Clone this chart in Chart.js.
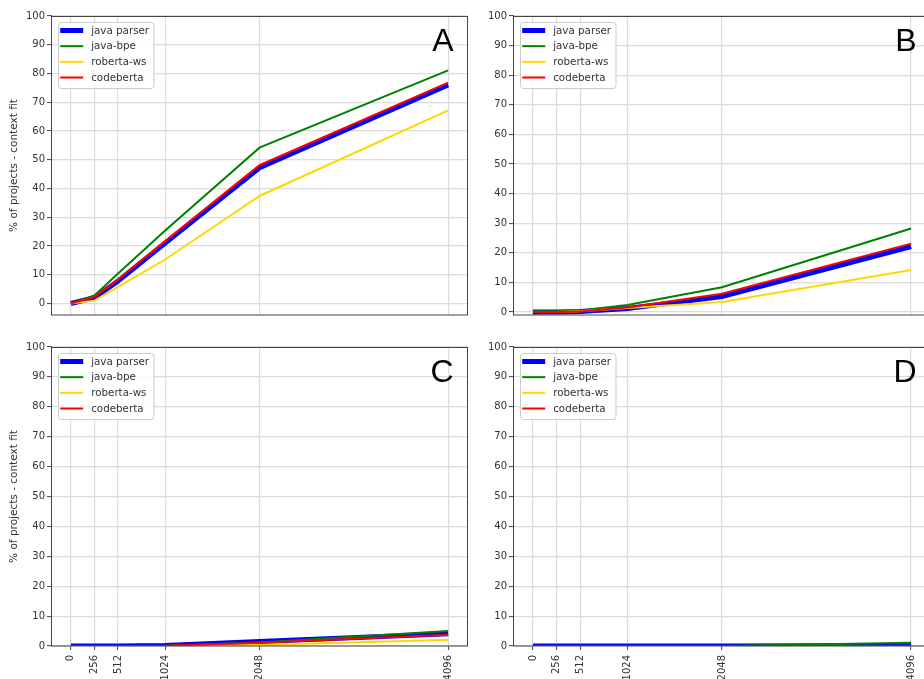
<!DOCTYPE html>
<html><head><meta charset="utf-8">
<script src="https://cdn.jsdelivr.net/npm/chart.js@4.4.1/dist/chart.umd.min.js"></script>
<style>
html,body{margin:0;padding:0;width:924px;height:679px;overflow:hidden;background:#fff;}
canvas{position:absolute;}
</style></head><body>
<canvas id="cA" width="480" height="330" style="left:0px;top:0px"></canvas>
<canvas id="cB" width="480" height="330" style="left:460px;top:0px"></canvas>
<canvas id="cC" width="480" height="360" style="left:0px;top:330px"></canvas>
<canvas id="cD" width="480" height="360" style="left:460px;top:330px"></canvas>
<script>
// ---- data ----
const xTicks = [0, 256, 512, 1024, 2048, 4096];
const xTickLabels = ['0', '256', '512', '1024', '2048', '4096'];
const yTicks = [0, 10, 20, 30, 40, 50, 60, 70, 80, 90, 100];
const seriesNames = ['java parser', 'java-bpe', 'roberta-ws', 'codeberta'];

const javaParserA = [0, 2.0, 7.8, 21.0, 47.2, 76.0];
const javaBpeA    = [0, 2.8, 10.4, 25.4, 54.2, 81.1];
const robertaWsA  = [0, 1.0, 5.8, 15.3, 37.4, 67.2];
const codebertaA  = [0, 2.3, 8.4, 21.7, 48.1, 76.8];

const javaParserB = [0, 0, 0.2, 1.2, 5.2, 22.1];
const javaBpeB    = [0.3, 0.3, 0.5, 2.4, 8.4, 28.2];
const robertaWsB  = [0, 0, 0.3, 1.4, 3.4, 14.2];
const codebertaB  = [0, 0, 0.2, 1.5, 6.2, 23.1];

const javaParserC = [0, 0, 0, 0.2, 1.5, 4.1];
const javaBpeC    = [0, 0, 0, 0.1, 1.2, 5.0];
const robertaWsC  = [0, 0, 0, 0, 0.3, 2.1];
const codebertaC  = [0, 0, 0, 0.1, 1.1, 3.8];

const javaParserD = [0, 0, 0, 0, 0, 0.2];
const javaBpeD    = [0, 0, 0, 0, 0, 1.1];
const robertaWsD  = [0, 0, 0, 0, 0, 0];
const codebertaD  = [0, 0, 0, 0, 0, 0];

// ---- styles ----
const seriesColors = ['#0000ff', '#008000', '#ffd700', '#ff0000'];
const seriesWidths = [5, 2, 2, 2];
const seriesOrder = [4, 3, 2, 1];
const FONT = '"DejaVu Sans", sans-serif';

const panels = [
  {id: 'cA', letter: 'A', series: [javaParserA, javaBpeA, robertaWsA, codebertaA], yMin: -4, yMax: 100, yTitle: true, xLabels: false,
   canvas: [0, 0, 480, 330], area: [52, 16, 467, 315], clip: undefined},
  {id: 'cB', letter: 'B', series: [javaParserB, javaBpeB, robertaWsB, codebertaB], yMin: -1, yMax: 100, yTitle: false, xLabels: false,
   canvas: [460, 0, 480, 330], area: [514, 16, 930, 315], clip: undefined},
  {id: 'cC', letter: 'C', series: [javaParserC, javaBpeC, robertaWsC, codebertaC], yMin: 0, yMax: 100, yTitle: true, xLabels: true,
   canvas: [0, 330, 480, 360], area: [52, 347, 467, 646], clip: 0},
  {id: 'cD', letter: 'D', series: [javaParserD, javaBpeD, robertaWsD, codebertaD], yMin: 0, yMax: 100, yTitle: false, xLabels: true,
   canvas: [460, 330, 480, 360], area: [514, 347, 930, 646], clip: 0},
];

const framePlugin = {
  id: 'frameAndLegend',
  afterDatasetsDraw(chart, args, opts) {
    const {ctx, chartArea} = chart;
    ctx.save();
    // spines
    ctx.strokeStyle = '#444';
    ctx.lineWidth = 1;
    ctx.strokeRect(Math.round(chartArea.left) - 0.5, Math.round(chartArea.top) + 0.5,
                   Math.round(chartArea.right - chartArea.left) + 1, Math.round(chartArea.bottom - chartArea.top) - 0.5);
    // legend box
    const x0 = chartArea.left + 5.7, y0 = chartArea.top + 5.7;
    const w = 95.5, h = 66;
    ctx.fillStyle = 'rgba(255,255,255,0.85)';
    ctx.strokeStyle = '#cccccc';
    ctx.beginPath();
    ctx.roundRect(Math.round(x0) + 0.5, Math.round(y0) + 0.5, w, h, 3);
    ctx.fill(); ctx.stroke();
    chart.data.datasets.forEach((ds, i) => {
      const y = y0 + 8.8 + i * 15.67;
      ctx.strokeStyle = ds.borderColor;
      ctx.lineWidth = ds.borderWidth;
      ctx.beginPath(); ctx.moveTo(x0 + 2.5, y); ctx.lineTo(x0 + 25.5, y); ctx.stroke();
      ctx.fillStyle = '#333';
      ctx.font = '10.3px ' + FONT;
      ctx.textBaseline = 'middle';
      ctx.textAlign = 'left';
      ctx.fillText(ds.label, x0 + 33.5, y + 0.5);
    });
    // panel letter
    ctx.fillStyle = '#000';
    ctx.font = '32px "Liberation Sans", Arial, sans-serif';
    ctx.textAlign = 'right';
    ctx.textBaseline = 'alphabetic';
    ctx.fillText(opts.letter, chartArea.right - 13.5, chartArea.top + 34.5);
    ctx.restore();
  }
};

panels.forEach(p => {
  const [cx, cy, cw, ch] = p.canvas;
  const [L, T, R, B] = p.area;
  const yAxisWidth = L - cx;
  const xAxisHeight = cy + ch - B;
  const datasets = p.series.map((vals, i) => ({
    label: seriesNames[i],
    data: xTicks.map((x, j) => ({x: x, y: vals[j]})),
    borderColor: seriesColors[i],
    backgroundColor: seriesColors[i],
    borderWidth: seriesWidths[i],
    order: seriesOrder[i],
    pointRadius: 0,
    tension: 0,
    fill: false,
    clip: p.clip,
  }));
  new Chart(document.getElementById(p.id), {
    type: 'line',
    data: {datasets},
    plugins: [framePlugin],
    options: {
      responsive: false,
      animation: false,
      devicePixelRatio: 1,
      layout: {padding: {left: 0, top: T - cy, right: cx + cw - R, bottom: 0}},
      plugins: {
        legend: {display: false},
        tooltip: {enabled: false},
        frameAndLegend: {letter: p.letter},
      },
      scales: {
        x: {
          type: 'linear',
          min: -204.8, max: 4300.8,
          afterBuildTicks: (s) => { s.ticks = xTicks.map(v => ({value: v})); },
          afterFit: (s) => { s.height = xAxisHeight; },
          border: {display: false},
          grid: {color: '#dcdcdc', lineWidth: 1.2, drawTicks: p.xLabels, tickLength: 4, tickColor: '#444', tickWidth: 1},
          ticks: {
            display: p.xLabels,
            autoSkip: false,
            minRotation: 90, maxRotation: 90,
            padding: 5,
            color: '#333',
            font: {family: FONT, size: 10},
            callback: (v) => xTickLabels[xTicks.indexOf(v)],
          },
        },
        y: {
          type: 'linear',
          min: p.yMin, max: p.yMax,
          afterBuildTicks: (s) => { s.ticks = yTicks.map(v => ({value: v})); },
          afterFit: (s) => { s.width = yAxisWidth; },
          border: {display: false},
          grid: {color: '#dcdcdc', lineWidth: 1.2, drawTicks: true, tickLength: 5, tickColor: '#444', tickWidth: 1},
          ticks: {
            padding: 2,
            color: '#333',
            font: {family: FONT, size: 10},
            callback: (v) => String(v),
          },
          title: {
            display: p.yTitle,
            text: '% of projects - context fit',
            color: '#333',
            font: {family: FONT, size: 10.5},
            padding: {top: 8, bottom: 0},
          },
        },
      },
    },
  });
});
</script>
</body></html>
